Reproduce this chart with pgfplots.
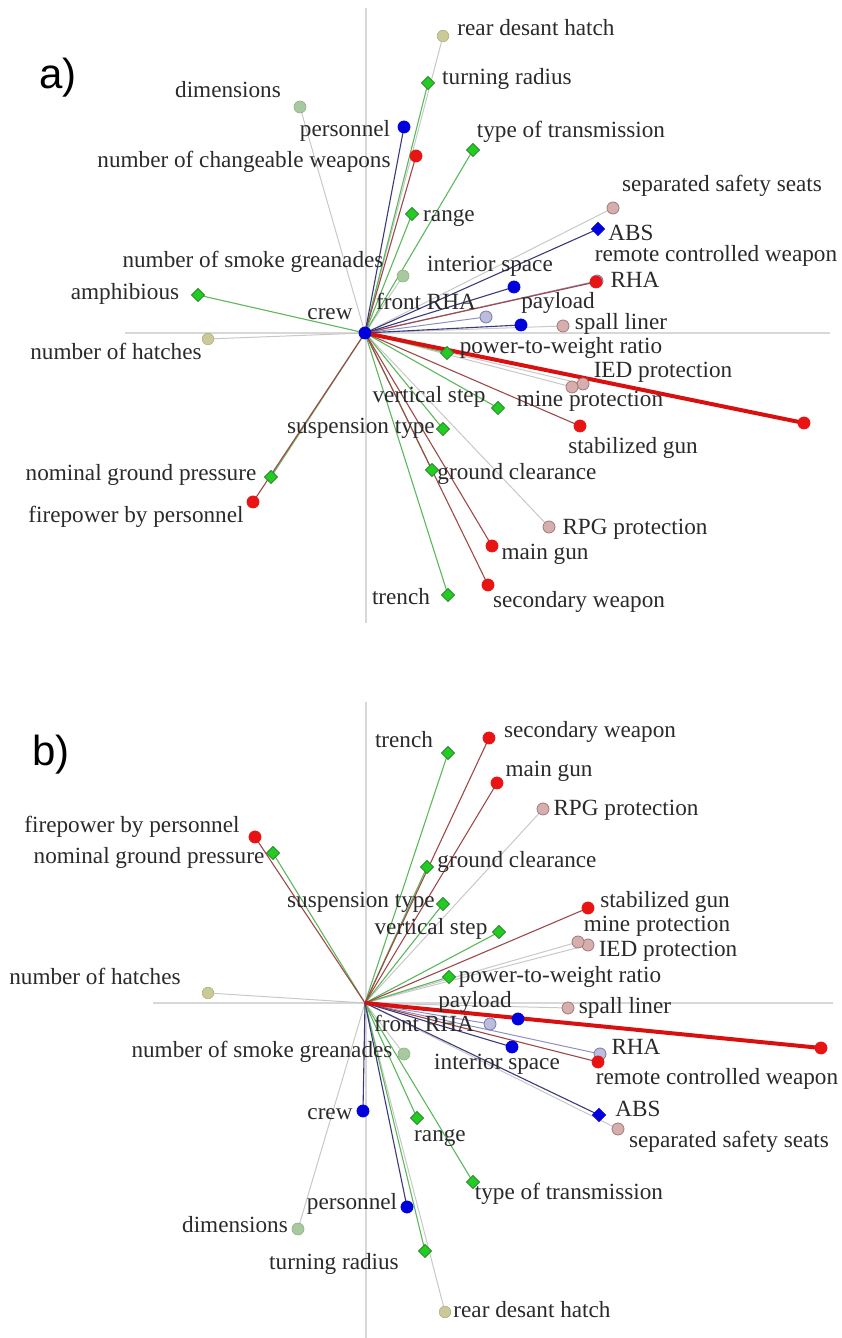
\documentclass[border=0pt]{standalone}
\usepackage{pgfplots}
\usepackage{pgfplotstable}
\pgfplotsset{compat=1.18}
\usepackage{fontspec}
\setmainfont{Liberation Serif}
\newfontfamily\panelfont{Liberation Sans}

\definecolor{cgreen}{HTML}{22CC22}
\definecolor{cgreenedge}{HTML}{2E8B2E}
\definecolor{cgreenline}{HTML}{5CB85C}
\definecolor{cred}{HTML}{E81414}
\definecolor{credline}{HTML}{A04848}
\definecolor{clongred}{HTML}{D81010}
\definecolor{cblue}{HTML}{0000DD}
\definecolor{cblueline}{HTML}{3A3A7A}
\definecolor{cpink}{HTML}{D6AEAE}
\definecolor{cpinkedge}{HTML}{A07878}
\definecolor{colive}{HTML}{CACA98}
\definecolor{cliveedge}{HTML}{B0B080}
\definecolor{clgreen}{HTML}{A8C8A0}
\definecolor{clgreenedge}{HTML}{90B088}
\definecolor{clav}{HTML}{BCBCDC}
\definecolor{clavedge}{HTML}{7878A8}
\definecolor{clavline}{HTML}{9090C0}
\definecolor{cgreyline}{HTML}{C8C8C8}
\definecolor{caxis}{HTML}{D8D8D8}
\definecolor{ctext}{HTML}{2A2A2A}

% g: 1 green diamond, 2 red, 3 blue, 4 blue diamond, 5 pink, 6 olive, 7 light green, 8 lavender, 9 long red
% coordinates in pixels relative to the centre of each panel
\pgfplotstableread[col sep=comma]{
name,x,y,g,lx,ly
rear desant hatch,78,297,6,171,302
turning radius,63,250,1,142,253
dimensions,-65,226,7,-137,240
personnel,39,206,3,-20,201
number of changeable weapons,51,177,2,-121,170
type of transmission,108,183,1,206,200
range,47,119,1,84,116
separated safety seats,248,125,5,357,146
ABS,233,104,4,266,97
number of smoke greanades,38,57,7,-112,70
interior space,149,46,3,125,66
RHA,232,52,8,270,50
remote controlled weapon,231,51,2,351,76
amphibious,-167,38,1,-240,38
front RHA,121,16,8,61,28
payload,156,8,3,193,29
spall liner,198,7,5,256,8
crew,0,0,3,-35,18
number of hatches,-157,-6,6,-249,-22
power-to-weight ratio,82,-20,1,196,-16
IED protection,218,-51,5,298,-40
mine protection,207,-54,5,225,-69
vertical step,133,-75,1,64,-65
stabilized gun,215,-93,2,268,-116
-,439,-90,9,0,0
suspension type,78,-96,1,-4,-96
ground clearance,67,-137,1,152,-142
nominal ground pressure,-94,-144,1,-224,-143
firepower by personnel,-112,-169,2,-229,-185
RPG protection,184,-194,5,270,-197
main gun,127,-213,2,180,-222
trench,83,-262,1,36,-267
secondary weapon,123,-252,2,214,-270
}\tablea

\pgfplotstableread[col sep=comma]{
name,x,y,g,lx,ly
rear desant hatch,80,-309,6,167,-310
turning radius,60,-248,1,-31,-262
dimensions,-67,-226,7,-130,-225
personnel,42,-204,3,-13,-202
type of transmission,108,-179,1,204,-192
range,52,-115,1,75,-134
separated safety seats,253,-126,5,364,-140
ABS,234,-112,4,273,-109
number of smoke greanades,39,-51,7,-103,-50
interior space,147,-44,3,132,-62
RHA,235,-51,8,271,-47
remote controlled weapon,233,-59,2,352,-77
front RHA,125,-21,8,59,-24
payload,153,-16,3,110,0
spall liner,203,-5,5,260,-6
crew,-2,-108,3,-35,-112
number of hatches,-157,10,6,-270,23
power-to-weight ratio,84,26,1,195,25
IED protection,223,58,5,303,51
mine protection,213,61,5,292,76
vertical step,134,71,1,66,73
stabilized gun,223,95,2,300,100
-,456,-45,9,0,0
suspension type,78,99,1,-4,100
ground clearance,62,136,1,152,140
nominal ground pressure,-92,150,1,-216,144
firepower by personnel,-110,166,2,-233,175
RPG protection,178,194,5,261,192
main gun,132,220,2,184,231
trench,83,250,1,39,260
secondary weapon,124,265,2,225,270
}\tableb

\newcommand\myspokes[4]{% table, group, colour, width
  \addplot[#3, line width=#4, quiver={u=\thisrow{x}, v=\thisrow{y}},
    restrict expr to domain={\thisrow{g}}{#2:#2}]
    table[x expr=0, y expr=0]{#1};}
\newcommand\mymarks[5]{% table, group, mark, size, mark options
  \addplot[only marks, mark=#3, mark size=#4, mark options={#5},
    restrict expr to domain={\thisrow{g}}{#2:#2}]
    table[x=x, y=y]{#1};}

\newcommand\drawpanel[1]{%
  \myspokes{#1}{5}{cgreyline}{0.5pt}
  \myspokes{#1}{6}{cgreyline}{0.5pt}
  \myspokes{#1}{7}{cgreyline}{0.5pt}
  \myspokes{#1}{8}{clavline}{0.5pt}
  \myspokes{#1}{1}{cgreenline}{0.55pt}
  \myspokes{#1}{2}{credline}{0.55pt}
  \myspokes{#1}{3}{cblueline}{0.55pt}
  \myspokes{#1}{4}{cblueline}{0.55pt}
  \myspokes{#1}{9}{clongred}{2pt}
  \mymarks{#1}{5}{*}{3pt}{fill=cpink, draw=cpinkedge, line width=0.4pt}
  \mymarks{#1}{6}{*}{2.9pt}{fill=colive, draw=cliveedge, line width=0.3pt}
  \mymarks{#1}{7}{*}{3pt}{fill=clgreen, draw=clgreenedge, line width=0.3pt}
  \mymarks{#1}{8}{*}{3pt}{fill=clav, draw=clavedge, line width=0.4pt}
  \mymarks{#1}{1}{square*}{2.3pt}{rotate=45, fill=cgreen, draw=cgreenedge, line width=0.4pt}
  \mymarks{#1}{2}{*}{3pt}{fill=cred, draw=cred}
  \mymarks{#1}{9}{*}{3pt}{fill=cred, draw=cred}
  \mymarks{#1}{3}{*}{3pt}{fill=cblue, draw=cblue}
  \mymarks{#1}{4}{square*}{2.3pt}{rotate=45, fill=cblue, draw=cblue}
  \addplot[only marks, mark=none, point meta=explicit symbolic,
    nodes near coords,
    every node near coord/.append style={anchor=center, inner sep=0pt,
      text height=0.7em, text depth=0.2em, text=ctext,
      font=\fontsize{11.6}{13}\selectfont},
    restrict expr to domain={\thisrow{g}}{1:8}]
    table[x=lx, y=ly, meta=name]{#1};
}

\pgfplotsset{panel/.style={
  x=0.5pt, y=0.5pt, scale only axis, hide axis, clip=false,
  xmin=-365, xmax=476}}

\begin{document}
\begin{tikzpicture}
\begin{axis}[panel, ymin=-336, ymax=333, at={(0,334.5pt)}, anchor=south west]
  \addplot[caxis, line width=1pt] coordinates {(1,325) (1,-290)};
  \addplot[caxis, line width=1pt] coordinates {(-240,0) (465,0)};
  \drawpanel{\tablea}
  \node[font=\panelfont\fontsize{21}{24}\selectfont, text=black] at (axis cs:-307,255) {a)};
\end{axis}
\begin{axis}[panel, ymin=-335, ymax=334, at={(0,0)}, anchor=south west]
  \addplot[caxis, line width=1pt] coordinates {(1,301) (1,-335)};
  \addplot[caxis, line width=1pt] coordinates {(-212,0) (468,0)};
  \drawpanel{\tableb}
  \node[font=\panelfont\fontsize{21}{24}\selectfont, text=black] at (axis cs:-314,248) {b)};
\end{axis}
\pgfresetboundingbox
\useasboundingbox (0,0) rectangle (420.5pt,669pt);
\end{tikzpicture}
\end{document}
